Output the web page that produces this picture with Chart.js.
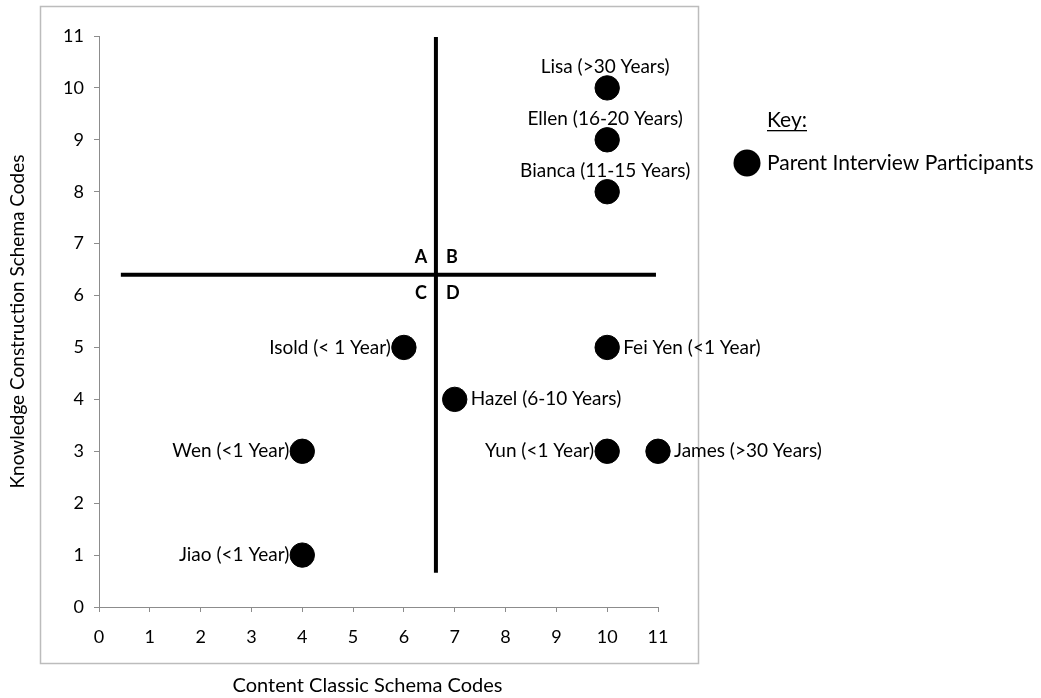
<!DOCTYPE html>
<html>
<head>
<meta charset="utf-8">
<script src="https://cdn.jsdelivr.net/npm/chart.js@4/dist/chart.umd.min.js"></script>
<style>
  html,body{margin:0;padding:0;background:#fff;}
  #wrap{width:1041px;height:698px;}
</style>
</head>
<body>
<div id="wrap"><canvas id="c" width="1041" height="698"></canvas></div>
<script>
// ---- data ----
const names = ["Lisa (>30 Years)","Ellen (16-20 Years)","Bianca (11-15 Years)","Isold (< 1 Year)","Fei Yen (<1 Year)","Hazel (6-10 Years)","Wen (<1 Year)","Yun (<1 Year)","James (>30 Years)","Jiao (<1 Year)"];
const contentCodes = [10,10,10,6,10,7,4,10,11,4];
const knowledgeCodes = [10,9,8,5,5,4,3,3,3,1];
const hLineX = [0.43,10.96];
const hLineY = [6.4,6.4];
const vLineX = [6.63,6.63];
const vLineY = [0.66,10.98];
const quadrantLetters = ["A","B","C","D"];
const xTitle = "Content Classic Schema Codes";
const yTitle = "Knowledge Construction Schema Codes";
const keyTitle = "Key:";
const seriesName = "Parent Interview Participants";

// label placement (style only)
const labelSide = ["top","top","top","left","right","right","left","left","right","left"];

const FONT = "Lato, 'Open Sans', sans-serif";

const points = contentCodes.map((x,i)=>({x:x,y:knowledgeCodes[i]}));
const hLine = hLineX.map((x,i)=>({x:x,y:hLineY[i]}));
const vLine = vLineX.map((x,i)=>({x:x,y:vLineY[i]}));

const decor = {
  id:'decor',
  beforeDraw(chart){
    const ctx = chart.ctx;
    ctx.save();
    ctx.fillStyle='#fff';
    ctx.fillRect(0,0,chart.width,chart.height);
    ctx.strokeStyle='#bcbcbc';
    ctx.lineWidth=1.5;
    ctx.strokeRect(40.5,6.5,658,657);
    ctx.restore();
  },
  afterDraw(chart){
    const ctx = chart.ctx;
    const xs = chart.scales.x, ys = chart.scales.y;
    ctx.save();
    // point labels
    ctx.fillStyle='#000';
    ctx.font = "19px " + FONT;
    ctx.textBaseline='middle';
    points.forEach((p,i)=>{
      const px = xs.getPixelForValue(p.x), py = ys.getPixelForValue(p.y);
      const side = labelSide[i];
      if(side==='top'){ctx.textAlign='center';ctx.fillText(names[i],px-2,py-21);}
      else if(side==='left'){ctx.textAlign='right';ctx.fillText(names[i],px-13,py);}
      else {ctx.textAlign='left';ctx.fillText(names[i],px+16,py);}
    });
    // quadrant letters
    const cx = xs.getPixelForValue(vLineX[0]), cy = ys.getPixelForValue(hLineY[0]);
    ctx.font = "bold 18px " + FONT;
    ctx.textAlign='center';
    ctx.fillText(quadrantLetters[0],cx-15,cy-18);
    ctx.fillText(quadrantLetters[1],cx+16,cy-18);
    ctx.fillText(quadrantLetters[2],cx-15,cy+18);
    ctx.fillText(quadrantLetters[3],cx+17,cy+18);
    // x axis title, centred under the framed box
    const ca = chart.chartArea;
    ctx.font = "20px " + FONT;
    ctx.fillText(xTitle,(ca.left+ca.right)/2-11,686);
    // key
    ctx.font = "21px " + FONT;
    ctx.textAlign='left';
    ctx.fillText(keyTitle,767,120);
    const kw = ctx.measureText(keyTitle).width;
    ctx.fillRect(767,130,kw,1.3);
    ctx.beginPath();
    ctx.arc(747,163,13.5,0,Math.PI*2);
    ctx.fill();
    ctx.fillText(seriesName,767,163);
    ctx.restore();
  }
};

new Chart(document.getElementById('c'),{
  type:'scatter',
  data:{
    datasets:[
      {label:'h',data:hLine,showLine:true,borderColor:'#000',borderWidth:4,pointRadius:0,clip:false,order:2},
      {label:'v',data:vLine,showLine:true,borderColor:'#000',borderWidth:4,pointRadius:0,clip:false,order:2},
      {label:seriesName,data:points,backgroundColor:'#000',borderColor:'#000',pointRadius:12.2,pointHoverRadius:12.2,clip:false,order:1}
    ]
  },
  options:{
    responsive:false,
    animation:false,
    events:[],
    layout:{padding:{left:0,top:36,right:383,bottom:0}},
    plugins:{legend:{display:false},tooltip:{enabled:false}},
    scales:{
      x:{
        type:'linear',min:0,max:11,
        ticks:{stepSize:1,color:'#000',font:{family:FONT,size:18},padding:14,maxRotation:0},
        grid:{drawOnChartArea:false,drawTicks:true,tickLength:5,color:'#8c8c8c'},
        border:{display:true,color:'#8c8c8c',width:1},
        title:{display:false},
        afterFit(s){s.height=91;}
      },
      y:{
        type:'linear',min:0,max:11,
        ticks:{stepSize:1,color:'#000',font:{family:FONT,size:18},padding:10},
        grid:{drawOnChartArea:false,drawTicks:true,tickLength:5,color:'#8c8c8c'},
        border:{display:true,color:'#8c8c8c',width:1},
        title:{display:true,text:yTitle,color:'#000',font:{family:FONT,size:19},padding:{top:6,bottom:0}},
        afterFit(s){s.width=99;}
      }
    }
  },
  plugins:[decor]
});
</script>
</body>
</html>
